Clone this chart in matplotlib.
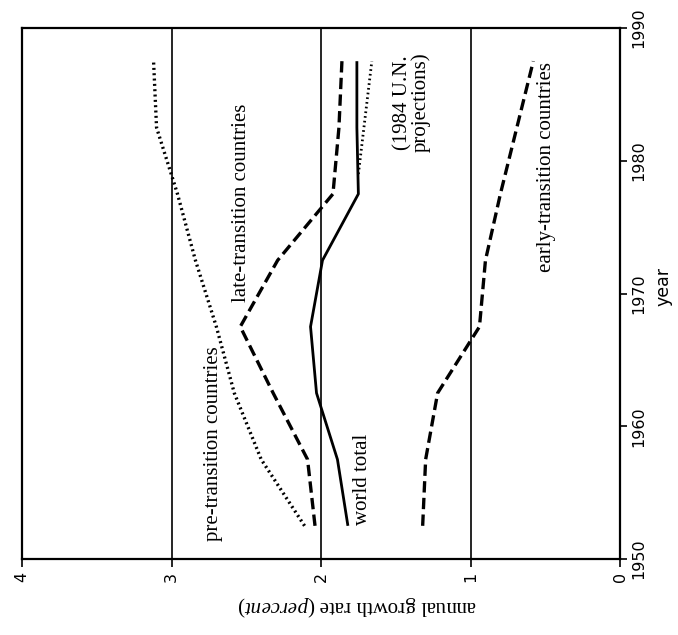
import matplotlib
matplotlib.use("Agg")
import matplotlib.pyplot as plt

plt.rcParams['font.family'] = ['Liberation Serif', 'DejaVu Serif']
plt.rcParams['mathtext.fontset'] = 'custom'
plt.rcParams['mathtext.rm'] = 'Liberation Serif'
plt.rcParams['mathtext.it'] = 'Liberation Serif:italic'

# five-year period midpoints
years = [1952.5, 1957.5, 1962.5, 1967.5, 1972.5, 1977.5, 1982.5, 1987.5]
world_total = [1.82, 1.89, 2.03, 2.07, 1.99, 1.75, 1.76, 1.76]
late_transition = [2.04, 2.09, 2.32, 2.54, 2.29, 1.92, 1.88, 1.86]
pre_transition = [2.11, 2.40, 2.58, 2.70, 2.84, 2.96, 3.10, 3.12]
early_transition = [1.32, 1.30, 1.22, 0.94, 0.90, 0.80, 0.69, 0.58]
proj_years = [1979, 1987.5]
un_projection = [1.75, 1.66]

rate_ticks = [0, 1, 2, 3, 4]
year_ticks = [1950, 1960, 1970, 1980, 1990]

fig = plt.figure(figsize=(6.78, 6.35), dpi=100)
ax = fig.add_axes([22 / 678, 1 - 559 / 635, 598 / 678, 531 / 635])

# the page is turned sideways: rate runs right-to-left, year bottom-to-top
for r in [1, 2, 3]:
    ax.axvline(r, color='black', lw=1.2, zorder=1)

ax.plot(world_total, years, color='black', lw=2.0, solid_capstyle='butt')
ax.plot(late_transition, years, color='black', lw=2.4, linestyle=(0, (3.4, 1.6)))
ax.plot(early_transition, years, color='black', lw=2.4, linestyle=(0, (3.4, 1.6)))
ax.plot(pre_transition, years, color='black', lw=2.4, linestyle=(0, (0.6, 1.0)))
ax.plot(un_projection, proj_years, color='black', lw=2.0, linestyle=(0, (0.6, 1.1)))

ax.set_xlim(4, 0)
ax.set_ylim(1950, 1990)
ax.set_xticks(rate_ticks)
ax.set_xticklabels([str(t) for t in rate_ticks], rotation=90, fontsize=11.5,
                   family='DejaVu Sans')
ax.yaxis.tick_right()
ax.set_yticks(year_ticks)
ax.set_yticklabels([str(t) for t in year_ticks], rotation=90, va='center',
                   fontsize=11.5, family='DejaVu Sans')
ax.tick_params(axis='x', direction='out', length=6, width=1.2, pad=3)
ax.tick_params(axis='y', direction='out', length=5, width=1.2, pad=3)
for s in ax.spines.values():
    s.set_linewidth(1.6)

txt = dict(rotation=90, ha='center', va='center', fontsize=15)
ax.text(2.53, 1976.8, 'late-transition countries', **txt)
ax.text(2.72, 1958.7, 'pre-transition countries', **txt)
ax.text(1.72, 1956.0, 'world total', **txt)
ax.text(1.39, 1984.4, '(1984 U.N.\nprojections)', rotation=90, ha='center',
        va='center', fontsize=15, linespacing=0.9)
ax.text(0.49, 1979.5, 'early-transition countries', **txt)

fig.text(663 / 678, 1 - 287 / 635, 'year', rotation=90, ha='center',
         va='center', fontsize=12.5, family='DejaVu Sans')
fig.text(357 / 678, 1 - 606 / 635, r'annual growth rate ($\it{percent}$)',
         rotation=180, ha='center', va='center', fontsize=15)

fig.savefig('out.png', dpi=100, facecolor='white')
